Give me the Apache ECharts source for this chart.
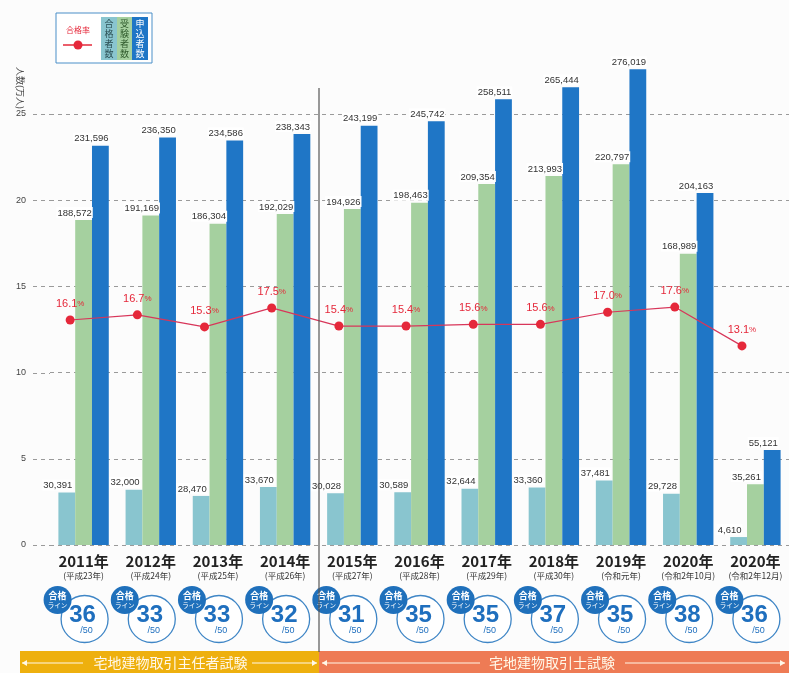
<!DOCTYPE html>
<html>
<head>
<meta charset="utf-8">
<script src="https://cdn.jsdelivr.net/npm/echarts@6/dist/echarts.min.js"></script>
<style>
html, body { margin: 0; padding: 0; background: #fcfcfc; }
#main { width: 789px; height: 673px; }
</style>
</head>
<body>
<div id="main"></div>
<script>
// 年度・和暦
var years = ['2011年', '2012年', '2013年', '2014年', '2015年', '2016年', '2017年', '2018年', '2019年', '2020年', '2020年'];
var eras = ['(平成23年)', '(平成24年)', '(平成25年)', '(平成26年)', '(平成27年)', '(平成28年)', '(平成29年)', '(平成30年)', '(令和元年)', '(令和2年10月)', '(令和2年12月)'];
// 人数
var passed = [30391, 32000, 28470, 33670, 30028, 30589, 32644, 33360, 37481, 29728, 4610];
var examinees = [188572, 191169, 186304, 192029, 194926, 198463, 209354, 213993, 220797, 168989, 35261];
var applicants = [231596, 236350, 234586, 238343, 243199, 245742, 258511, 265444, 276019, 204163, 55121];
// 合格率(%)と合格ライン(/50)
var passRate = [16.1, 16.7, 15.3, 17.5, 15.4, 15.4, 15.6, 15.6, 17.0, 17.6, 13.1];
var passLine = [36, 33, 33, 32, 31, 35, 35, 37, 35, 38, 36];
// 縦軸の目盛り(人)
var yTicks = [0, 50000, 100000, 150000, 200000, 250000];

var jp = '"Noto Sans CJK JP", sans-serif';
var num = '"Liberation Sans Narrow", "Liberation Sans", Arial, sans-serif';
var red = '#e5283a';
var lineBlue = '#1f6fbe';

var myChart = echarts.init(document.getElementById('main'));

function barLabel() {
    return {
        show: true,
        position: 'top',
        distance: 2,
        offset: [-9, 0],
        fontSize: 9.5,
        fontFamily: num,
        color: '#333',
        backgroundColor: '#fff',
        padding: [1, 1, 0, 1],
        formatter: function (p) { return p.value.toLocaleString('en-US'); }
    };
}

myChart.setOption({
    backgroundColor: '#fcfcfc',
    animation: false,
    grid: { left: 50, right: 0, top: 114, bottom: 128 },
    xAxis: [
        {
            type: 'category',
            data: years,
            axisLine: { show: false },
            axisTick: { show: false },
            axisLabel: {
                interval: 0,
                margin: 8,
                formatter: function (v, i) { return '{y|' + v + '}\n{e|' + eras[i] + '}'; },
                rich: {
                    y: { fontSize: 15, fontWeight: 'bold', color: '#222', fontFamily: jp, lineHeight: 17 },
                    e: { fontSize: 8.5, color: '#333', fontFamily: jp, lineHeight: 12 }
                }
            }
        },
        { type: 'value', min: -0.3, max: 10.7, show: false }
    ],
    yAxis: [
        {
            type: 'value',
            min: yTicks[0],
            max: yTicks[yTicks.length - 1],
            interval: 50000,
            axisLine: { show: false },
            axisTick: { show: false },
            axisLabel: {
                margin: 24,
                fontSize: 9,
                color: '#444',
                fontFamily: num,
                formatter: function (v) { return v / 10000; }
            },
            splitLine: { lineStyle: { color: '#9a9a9a', type: [4, 4], width: 1 } }
        },
        { type: 'value', min: -10, max: 40, show: false }
    ],
    series: [
        {
            name: '合格者数', type: 'bar', data: passed, clip: false,
            barGap: '0%', barCategoryGap: '25%',
            itemStyle: { color: '#89c5cf' }, label: barLabel()
        },
        {
            name: '受験者数', type: 'bar', data: examinees, clip: false,
            barGap: '0%', barCategoryGap: '25%',
            itemStyle: { color: '#a5d09f' }, label: barLabel()
        },
        {
            name: '申込者数', type: 'bar', data: applicants, clip: false,
            barGap: '0%', barCategoryGap: '25%',
            itemStyle: { color: '#1f76c6' }, label: barLabel()
        },
        {
            name: '合格率', type: 'line', xAxisIndex: 1, yAxisIndex: 1, z: 5,
            data: passRate.map(function (v, i) { return [i, v]; }),
            symbol: 'circle', symbolSize: 9,
            itemStyle: { color: red },
            lineStyle: { color: '#d8365a', width: 1.2 },
            label: {
                show: true, position: 'top', distance: 6,
                formatter: function (p) { return '{a|' + p.value[1].toFixed(1) + '}{b|%}'; },
                rich: {
                    a: { fontSize: 11, color: red, fontFamily: num },
                    b: { fontSize: 8, color: red, fontFamily: num }
                }
            }
        },
        {
            name: '合格ライン', type: 'custom', xAxisIndex: 0, yAxisIndex: 0,
            clip: false, silent: true, z: 10,
            data: passLine.map(function (v, i) { return [i, 0, v]; }),
            encode: { x: 0, y: 1 },
            renderItem: function (params, api) {
                var pt = api.coord([api.value(0), 0]);
                var x = pt[0], y = pt[1];
                return {
                    type: 'group',
                    children: [
                        { type: 'circle', shape: { cx: x + 1, cy: y + 74, r: 23.5 },
                          style: { fill: '#fff', stroke: '#3f86c6', lineWidth: 1.3 } },
                        { type: 'text', style: { text: String(api.value(2)), x: x - 1, y: y + 70,
                          align: 'center', verticalAlign: 'middle', fill: lineBlue,
                          font: 'bold 24px ' + num } },
                        { type: 'text', style: { text: '/50', x: x + 3, y: y + 86,
                          align: 'center', verticalAlign: 'middle', fill: lineBlue,
                          font: '9px ' + num } },
                        { type: 'circle', shape: { cx: x - 26, cy: y + 55, r: 14 },
                          style: { fill: '#1f70bb' } },
                        { type: 'text', style: { text: '合格', x: x - 26, y: y + 51,
                          align: 'center', verticalAlign: 'middle', fill: '#fff',
                          font: 'bold 9px ' + jp } },
                        { type: 'text', style: { text: 'ライン', x: x - 26, y: y + 61,
                          align: 'center', verticalAlign: 'middle', fill: '#fff',
                          font: '6.5px ' + jp } }
                    ]
                };
            }
        }
    ]
});

// 区切り線と試験名の帯
var x3 = myChart.convertToPixel({ xAxisIndex: 0 }, 3);
var x4 = myChart.convertToPixel({ xAxisIndex: 0 }, 4);
var sep = Math.round((x3 + x4) / 2);

function arrowLine(x1, x2, y, head) {
    var tip = head === 'left' ? x1 : x2;
    var d = head === 'left' ? 5 : -5;
    return [
        { type: 'line', shape: { x1: x1, y1: y, x2: x2, y2: y }, style: { stroke: '#fff8e8', lineWidth: 1.2 } },
        { type: 'polygon', shape: { points: [[tip, y], [tip + d, y - 3], [tip + d, y + 3]] }, style: { fill: '#fff8e8' } }
    ];
}

var graphics = [
    { type: 'rect', shape: { x: 20, y: 651, width: sep - 20, height: 22 }, style: { fill: '#eeb00e' } },
    { type: 'rect', shape: { x: sep, y: 651, width: 789 - sep, height: 22 }, style: { fill: '#ee7b55' } },
    { type: 'text', style: { text: '宅地建物取引主任者試験', x: (20 + sep) / 2 + 1, y: 663, align: 'center', verticalAlign: 'middle', fill: '#fff8e8', font: '14px ' + jp } },
    { type: 'text', style: { text: '宅地建物取引士試験', x: 552, y: 663, align: 'center', verticalAlign: 'middle', fill: '#fff8e8', font: '14px ' + jp } },
    { type: 'line', shape: { x1: sep, y1: 88, x2: sep, y2: 652 }, style: { stroke: '#555', lineWidth: 1.2 }, z: 20 },
    { type: 'text', rotation: -Math.PI / 2, x: 20, y: 88, style: { text: '人数(万人)', align: 'center', verticalAlign: 'middle', fill: '#444', font: '9px ' + jp } },
    // 凡例
    { type: 'rect', shape: { x: 56, y: 13, width: 96, height: 50 }, style: { fill: '#fff', stroke: '#4a8fc8', lineWidth: 1 } },
    { type: 'text', style: { text: '合格率', x: 78, y: 30, align: 'center', verticalAlign: 'middle', fill: red, font: '8px ' + jp } },
    { type: 'line', shape: { x1: 63, y1: 45, x2: 92, y2: 45 }, style: { stroke: red, lineWidth: 1.5 } },
    { type: 'circle', shape: { cx: 78, cy: 45, r: 4.5 }, style: { fill: red } },
    { type: 'rect', shape: { x: 101, y: 17, width: 16, height: 43 }, style: { fill: '#89c5cf' } },
    { type: 'rect', shape: { x: 117, y: 17, width: 15, height: 43 }, style: { fill: '#a5d09f' } },
    { type: 'rect', shape: { x: 132, y: 17, width: 16, height: 43 }, style: { fill: '#1f76c6' } },
    { type: 'text', style: { text: '合\n格\n者\n数', x: 109, y: 38.5, align: 'center', verticalAlign: 'middle', fill: '#2a4d52', font: '9px ' + jp, lineHeight: 10 } },
    { type: 'text', style: { text: '受\n験\n者\n数', x: 124.5, y: 38.5, align: 'center', verticalAlign: 'middle', fill: '#2f5a2c', font: '9px ' + jp, lineHeight: 10 } },
    { type: 'text', style: { text: '申\n込\n者\n数', x: 140, y: 38.5, align: 'center', verticalAlign: 'middle', fill: '#fff', font: '9px ' + jp, lineHeight: 10 } }
];
// 目盛り線を軸ラベル側まで延ばす
yTicks.forEach(function (t) {
    var ty = Math.round(myChart.convertToPixel({ yAxisIndex: 0 }, t)) + 0.5;
    graphics.push({ type: 'line', shape: { x1: 33, y1: ty, x2: 50, y2: ty },
        style: { stroke: '#9a9a9a', lineWidth: 1, lineDash: [4, 4] } });
});
graphics = graphics
    .concat(arrowLine(22, 83, 663, 'left'))
    .concat(arrowLine(252, sep - 2, 663, 'right'))
    .concat(arrowLine(sep + 3, 480, 663, 'left'))
    .concat(arrowLine(625, 785, 663, 'right'));

myChart.setOption({ graphic: graphics });
</script>
</body>
</html>
